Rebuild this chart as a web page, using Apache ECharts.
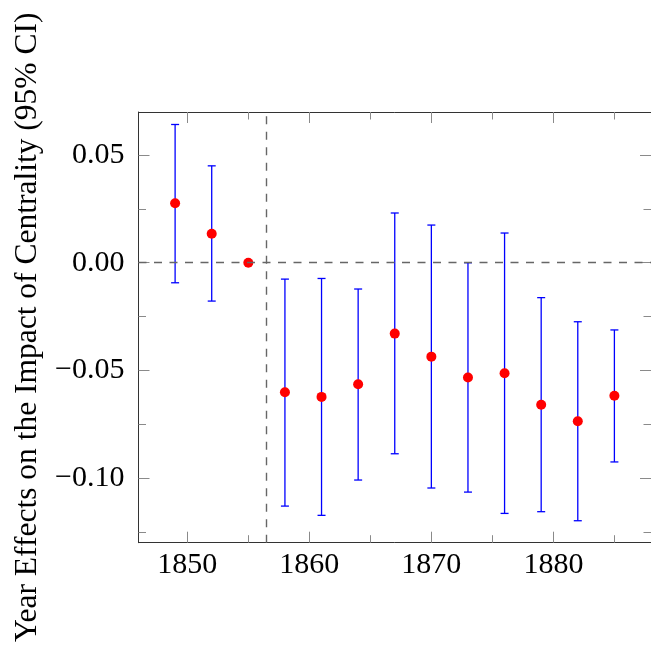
<!DOCTYPE html>
<html>
<head>
<meta charset="utf-8">
<script src="https://cdn.jsdelivr.net/npm/echarts@6.0.0/dist/echarts.min.js"></script>
<style>
html,body{margin:0;padding:0;background:#fff;}
#chart{width:651px;height:646px;}
</style>
</head>
<body>
<div id="chart"></div>
<script>
// ---- data ----
const years     = [1849, 1852, 1855, 1858, 1861, 1864, 1867, 1870, 1873, 1876, 1879, 1882, 1885];
const estimates = [0.0276, 0.0135, 0.0, -0.0601, -0.0623, -0.0564, -0.0329, -0.0436, -0.0533, -0.0513, -0.0659, -0.0736, -0.0618];
const lowerCI   = [-0.0093, -0.0178, 0.0, -0.1130, -0.1173, -0.1009, -0.0887, -0.1046, -0.1065, -0.1164, -0.1156, -0.1198, -0.0925];
const upperCI   = [0.0642, 0.0450, 0.0, -0.0076, -0.0073, -0.0122, 0.0231, 0.0175, 0.0000, 0.0138, -0.0162, -0.0274, -0.0312];
const xMajorTicks = [1850, 1860, 1870, 1880];
const xMinorTicks = [1855, 1865, 1875, 1885];
const yMajorTicks = [-0.10, -0.05, 0.00, 0.05];
const yMinorTicks = [-0.125, -0.075, -0.025, 0.025];
const breakYear = 1856.5;
const yAxisTitle = 'Year Effects on the Impact of Centrality (95% CI)';

const FONT = '"Liberation Serif", "Times New Roman", serif';
const X_MIN = 1846, X_MAX = 1888, Y_MIN = -0.13, Y_MAX = 0.07;
const TICK_COLOR = '#8a8a8a';

function fmtY(v) {
  const s = Math.abs(v).toFixed(2);
  return (v < -1e-9 ? '\u2212' : '') + s;
}

function xAxisDef(pos, ticks, len, withLabel, withLine) {
  return {
    type: 'value', position: pos, min: X_MIN, max: X_MAX,
    axisLine: { show: withLine, onZero: false, lineStyle: { color: '#333', width: 1 } },
    axisTick: { show: true, inside: true, length: len, customValues: ticks, lineStyle: { color: TICK_COLOR, width: 1 } },
    axisLabel: withLabel ? { show: true, customValues: ticks, margin: 7, fontFamily: FONT, fontSize: 30, color: '#000', formatter: v => String(v) } : { show: false },
    splitLine: { show: false }
  };
}
function yAxisDef(pos, ticks, len, withLabel, withLine) {
  const ax = {
    type: 'value', position: pos, min: Y_MIN, max: Y_MAX,
    axisLine: { show: withLine, onZero: false, lineStyle: { color: '#333', width: 1 } },
    axisTick: { show: true, inside: true, length: len, customValues: ticks, lineStyle: { color: TICK_COLOR, width: 1 } },
    axisLabel: withLabel ? { show: true, customValues: ticks, margin: 14, fontFamily: FONT, fontSize: 30, color: '#000', formatter: fmtY } : { show: false },
    splitLine: { show: false }
  };
  if (withLabel) {
    ax.name = yAxisTitle;
    ax.nameLocation = 'middle';
    ax.nameGap = 87;
    ax.nameTextStyle = { fontFamily: FONT, fontSize: 31.5, color: '#000' };
  }
  return ax;
}

const chart = echarts.init(document.getElementById('chart'), null, { renderer: 'canvas' });
chart.setOption({
  animation: false,
  backgroundColor: '#fff',
  grid: { left: 138.5, top: 112, right: -5, bottom: 103.3, containLabel: false },
  xAxis: [
    xAxisDef('bottom', xMajorTicks, 11, true, true),
    xAxisDef('bottom', xMinorTicks, 7.5, false, false),
    xAxisDef('top', xMajorTicks, 11, false, true),
    xAxisDef('top', xMinorTicks, 7.5, false, false)
  ],
  yAxis: [
    yAxisDef('left', yMajorTicks, 11, true, true),
    yAxisDef('left', yMinorTicks, 7.5, false, false),
    yAxisDef('right', yMajorTicks, 11, false, true),
    yAxisDef('right', yMinorTicks, 7.5, false, false)
  ],
  series: [
    {
      type: 'line', xAxisIndex: 0, yAxisIndex: 0, data: [], z: 1,
      markLine: {
        silent: true, symbol: 'none', label: { show: false },
        lineStyle: { color: '#666666', width: 1.4, type: [8, 7.5], opacity: 1 },
        data: [{ yAxis: 0 }, { xAxis: breakYear }]
      }
    },
    {
      type: 'custom', xAxisIndex: 0, yAxisIndex: 0, z: 3,
      data: years.map((y, i) => [y, lowerCI[i], upperCI[i]]),
      encode: { x: 0, y: [1, 2] },
      renderItem: function (params, api) {
        const x = api.value(0), lo = api.value(1), hi = api.value(2);
        if (lo === hi) return null;
        const pLo = api.coord([x, lo]);
        const pHi = api.coord([x, hi]);
        const w = 4;
        const st = { stroke: '#0000ff', lineWidth: 1.3, fill: null, opacity: 1 };
        return {
          type: 'group',
          children: [
            { type: 'line', shape: { x1: pLo[0], y1: pLo[1], x2: pHi[0], y2: pHi[1] }, style: st },
            { type: 'line', shape: { x1: pLo[0] - w, y1: pLo[1], x2: pLo[0] + w, y2: pLo[1] }, style: st },
            { type: 'line', shape: { x1: pHi[0] - w, y1: pHi[1], x2: pHi[0] + w, y2: pHi[1] }, style: st }
          ]
        };
      }
    },
    {
      type: 'scatter', xAxisIndex: 0, yAxisIndex: 0, z: 4,
      symbol: 'circle', symbolSize: 10,
      itemStyle: { color: '#ff0000', opacity: 1 },
      data: years.map((y, i) => [y, estimates[i]])
    }
  ]
});
</script>
</body>
</html>
